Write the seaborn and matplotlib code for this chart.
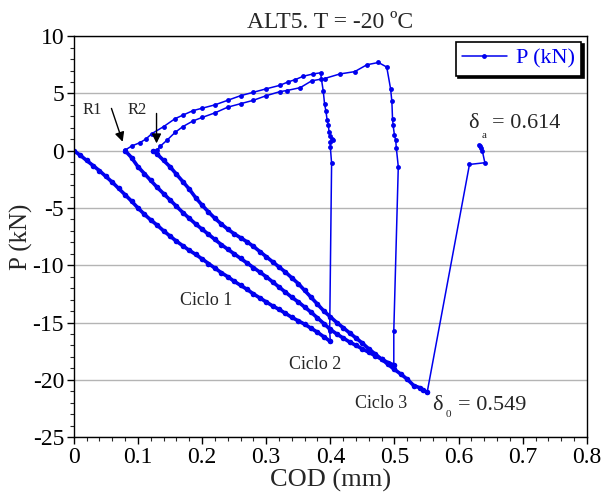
import numpy as np
import pandas as pd
import seaborn as sns
import matplotlib
matplotlib.use('Agg')
import matplotlib.pyplot as plt
from matplotlib.ticker import FuncFormatter, MultipleLocator

# values, in drawing order
# cycle 1 loading from origin
c1_cod = [0.00, 0.01, 0.02, 0.03, 0.04, 0.05, 0.06, 0.07, 0.08, 0.09, 0.10, 0.11, 0.12, 0.13,
          0.14, 0.15, 0.16, 0.17, 0.18, 0.19, 0.20, 0.21, 0.22, 0.23, 0.24, 0.25, 0.26, 0.27,
          0.28, 0.29, 0.30, 0.31, 0.32, 0.33, 0.34, 0.35, 0.36, 0.37, 0.38, 0.39, 0.40]
c1_p = [0.0, -0.4, -0.85, -1.3, -1.75, -2.25, -2.75, -3.3, -3.85, -4.4, -5.0, -5.55, -6.05, -6.5,
        -7.0, -7.45, -7.9, -8.3, -8.7, -9.05, -9.45, -9.85, -10.25, -10.65, -11.0, -11.4, -11.75, -12.1,
        -12.5, -12.85, -13.2, -13.55, -13.85, -14.2, -14.55, -14.85, -15.15, -15.5, -15.85, -16.25, -16.65]
# cycle 1 unloading (vertical) and return branch to R1
u1_cod = [0.399, 0.402, 0.400, 0.400, 0.404, 0.402, 0.400, 0.398, 0.397, 0.395, 0.393, 0.391, 0.389,
          0.386, 0.385, 0.373, 0.358, 0.345, 0.334, 0.321, 0.300, 0.280, 0.260, 0.240, 0.220, 0.200,
          0.186, 0.170, 0.158, 0.140, 0.122, 0.112, 0.103, 0.090, 0.080]
u1_p = [-15.7, -1.1, 0.35, 0.8, 0.9, 1.0, 1.3, 1.65, 2.2, 2.7, 3.5, 4.1, 5.2,
        6.3, 6.8, 6.7, 6.5, 6.2, 6.0, 5.7, 5.4, 5.1, 4.8, 4.4, 4.0, 3.7,
        3.5, 3.1, 2.8, 2.1, 1.5, 1.0, 0.7, 0.4, 0.05]
# cycle 2 loading from R1
c2_cod = [0.08, 0.09, 0.10, 0.11, 0.12, 0.13, 0.14, 0.15, 0.16, 0.17, 0.18, 0.19, 0.20, 0.21,
          0.22, 0.23, 0.24, 0.25, 0.26, 0.27, 0.28, 0.29, 0.30, 0.31, 0.32, 0.33, 0.34, 0.35,
          0.36, 0.37, 0.38, 0.39, 0.40, 0.41, 0.42, 0.43, 0.44, 0.45, 0.46, 0.47, 0.48, 0.49, 0.499]
c2_p = [0.0, -0.6, -1.4, -2.0, -2.6, -3.2, -3.75, -4.3, -4.85, -5.4, -5.9, -6.4, -6.85, -7.3,
        -7.75, -8.2, -8.6, -9.0, -9.4, -9.8, -10.2, -10.6, -11.0, -11.45, -11.9, -12.35, -12.8, -13.2,
        -13.65, -14.1, -14.6, -15.1, -15.6, -16.0, -16.35, -16.7, -17.0, -17.3, -17.6, -17.9, -18.2, -18.5, -18.7]
# cycle 2 unloading and return branch to R2
u2_cod = [0.499, 0.506, 0.503, 0.502, 0.500, 0.498, 0.497, 0.496, 0.494, 0.488, 0.475, 0.457, 0.438,
          0.415, 0.391, 0.371, 0.353, 0.332, 0.321, 0.300, 0.280, 0.260, 0.240, 0.220, 0.200, 0.186,
          0.170, 0.158, 0.145, 0.135, 0.130]
u2_p = [-15.7, -1.4, 0.2, 0.9, 1.35, 2.2, 2.8, 4.3, 5.4, 7.3, 7.7, 7.5, 6.9,
        6.7, 6.3, 6.1, 5.5, 5.25, 5.15, 4.8, 4.4, 4.1, 3.8, 3.3, 2.9, 2.6,
        2.1, 1.6, 0.9, 0.4, 0.05]
# cycle 3 loading from R2
c3_cod = [0.124, 0.13, 0.14, 0.15, 0.16, 0.17, 0.18, 0.19, 0.20, 0.21, 0.22, 0.23, 0.24, 0.25,
          0.26, 0.27, 0.28, 0.29, 0.30, 0.31, 0.32, 0.33, 0.34, 0.35, 0.36, 0.37, 0.38, 0.39,
          0.40, 0.41, 0.42, 0.43, 0.44, 0.45, 0.46, 0.47, 0.48, 0.49, 0.50, 0.51, 0.52, 0.53,
          0.54, 0.545, 0.551]
c3_p = [0.0, -0.3, -0.85, -1.4, -2.05, -2.7, -3.35, -4.1, -4.75, -5.35, -5.9, -6.4, -6.85, -7.25,
        -7.6, -7.95, -8.35, -8.8, -9.25, -9.7, -10.15, -10.6, -11.1, -11.6, -12.2, -12.8, -13.4, -14.0,
        -14.5, -15.0, -15.45, -15.9, -16.35, -16.8, -17.3, -17.75, -18.2, -18.65, -19.1, -19.5, -19.95, -20.5,
        -20.7, -20.9, -21.1]
# final opening after delta_0
end_cod = [0.617, 0.641, 0.637, 0.635, 0.633, 0.632]
end_p = [-1.2, -1.05, 0.0, 0.2, 0.4, 0.5]

cod = c1_cod + u1_cod + c2_cod + u2_cod + c3_cod + end_cod
p = c1_p + u1_p + c2_p + u2_p + c3_p + end_p
df = pd.DataFrame({'COD': cod, 'P': p})

# loading branches are drawn heavier (dense scatter of readings in the original)
loads = pd.concat([
    pd.DataFrame({'COD': c1_cod, 'P': c1_p, 'cyc': 'c1'}),
    pd.DataFrame({'COD': c2_cod, 'P': c2_p, 'cyc': 'c2'}),
    pd.DataFrame({'COD': c3_cod, 'P': c3_p, 'cyc': 'c3'}),
], ignore_index=True)

blue = '#0000ee'

sns.set_style('ticks')
plt.rcParams['font.family'] = ['Liberation Serif', 'DejaVu Serif']

fig, ax = plt.subplots(figsize=(6.1, 4.95), dpi=100)
fig.subplots_adjust(left=0.121, right=0.962, top=0.927, bottom=0.117)

ax.yaxis.grid(True, which='major', color='#b4b4b4', lw=1, zorder=0)
ax.xaxis.grid(False)

sns.lineplot(data=loads, x='COD', y='P', units='cyc', sort=False, estimator=None, ax=ax,
             color=blue, lw=2.6, marker='o', markersize=4, markeredgewidth=0, legend=False)
sns.lineplot(data=df, x='COD', y='P', sort=False, estimator=None, ax=ax,
             color=blue, lw=1.1, marker='o', markersize=3.5, markeredgewidth=0,
             label='P (kN)')

ax.set_xlim(0, 0.8)
ax.set_ylim(-25, 10)
ax.xaxis.set_major_locator(MultipleLocator(0.1))
ax.xaxis.set_minor_locator(MultipleLocator(0.02))
ax.yaxis.set_major_locator(MultipleLocator(5))
ax.yaxis.set_minor_locator(MultipleLocator(1))
ax.xaxis.set_major_formatter(FuncFormatter(lambda v, _: '0' if abs(v) < 1e-9 else f'{v:.1f}'))
ax.yaxis.set_major_formatter(FuncFormatter(lambda v, _: f'{v:.0f}'))
ax.tick_params(which='major', direction='out', length=5, width=1, labelsize=17, colors='black', pad=2)
ax.tick_params(which='minor', direction='out', length=3, width=0.8)
for s in ax.spines.values():
    s.set_visible(True)
    s.set_color('black')
    s.set_linewidth(1)

ax.set_title('ALT5. T = -20 ºC', fontsize=17, pad=6)
ax.set_xlabel('COD (mm)', fontsize=19, labelpad=1)
ax.set_ylabel('P (kN)', fontsize=18, labelpad=0)

leg = ax.legend(loc='upper right', frameon=True, fancybox=False, edgecolor='black',
                framealpha=1, shadow={'color': 'black', 'alpha': 1}, fontsize=16,
                handlelength=2.0, handletextpad=0.4, numpoints=1, borderaxespad=0.25, borderpad=0.3)
leg.get_frame().set_linewidth(1.2)
for t in leg.get_texts():
    t.set_color(blue)

# annotations
ax.text(0.029, 3.55, 'R1', fontsize=12, ha='center', va='center')
ax.text(0.0995, 3.55, 'R2', fontsize=12, ha='center', va='center')
arrow = dict(arrowstyle='-|>', color='black', lw=1, mutation_scale=14, shrinkA=0, shrinkB=0)
ax.annotate('', xy=(0.0762, 0.78), xytext=(0.0587, 3.69), arrowprops=arrow)
ax.annotate('', xy=(0.129, 0.64), xytext=(0.129, 3.25), arrowprops=arrow)

ax.text(0.2057, -13.1, 'Ciclo 1', fontsize=13, ha='center', va='center')
ax.text(0.376, -18.7, 'Ciclo 2', fontsize=13, ha='center', va='center')
ax.text(0.479, -22.05, 'Ciclo 3', fontsize=13, ha='center', va='center')

ax.text(0.558, -22.2, 'δ', fontsize=16, ha='left', va='center')
ax.text(0.580, -23.0, '0', fontsize=8, ha='left', va='center')
ax.text(0.599, -22.2, '= 0.549', fontsize=16, ha='left', va='center')

ax.text(0.615, 2.4, 'δ', fontsize=16, ha='left', va='center')
ax.text(0.636, 1.3, 'a', fontsize=8, ha='left', va='center')
ax.text(0.652, 2.4, '= 0.614', fontsize=16, ha='left', va='center')

fig.savefig('out.png', dpi=100)
